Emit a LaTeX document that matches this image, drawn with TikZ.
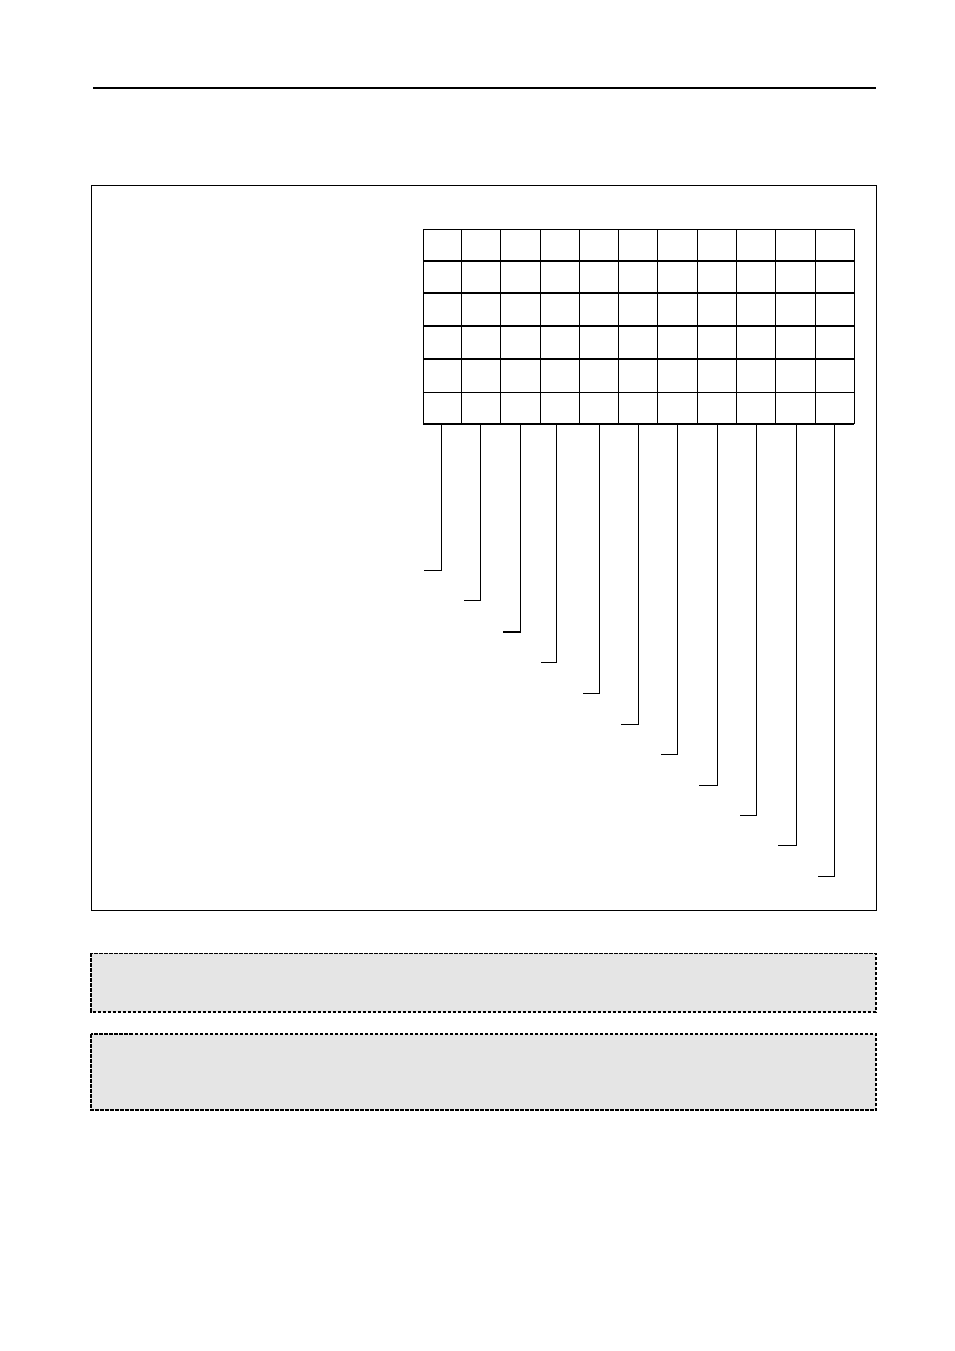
\documentclass[tikz,border=0pt]{standalone}
\begin{document}
\begin{tikzpicture}[x=1pt,y=-1pt,
  rule/.style={line width=2pt},
  frame/.style={line width=1pt},
  gridline/.style={line width=1.1pt},
  lead/.style={line width=1.1pt},
  dashbox/.style={line width=1.6pt,dash pattern=on 3.5pt off 1.5pt,fill=black!10}]
\useasboundingbox (0,0) rectangle (954,1351);
\fill[white] (0,0) rectangle (954,1351);
% top rule
\coordinate (rl) at (93,88);
\coordinate (rr) at (876,88);
\draw[rule] (rl) -- (rr);
% outer frame
\draw[frame] (91,186) rectangle (876,910);
% grid
\foreach \gx in {423.3,461.3,500.3,540.3,579.3,618.3,657.3,697.3,736.3,775.7,815.3,854.3}
  \draw[gridline] (\gx,229.3) -- (\gx,424);
\foreach \gy in {229.3,261,293,326,359,392.3,424}
  \draw[gridline] (423.3,\gy) -- (854.3,\gy);
% leads
\foreach \lx/\ly/\le [count=\i] in {
  441.3/570.3/424, 480.3/600.3/464, 520.3/632/503, 556.3/662.3/541,
  599.3/693.3/583, 638.3/724.3/621, 677.3/754.3/661, 717.3/785.3/699,
  756.3/815.3/740, 796.3/845.3/778, 834.3/876.3/818}{
  \coordinate (lt\i) at (\lx,424);
  \coordinate (lb\i) at (\lx,\ly);
  \coordinate (le\i) at (\le,\ly);
  \draw[lead] (lt\i) -- (lb\i) -- (le\i);
}
% dashed notes
\draw[dashbox] (91,953.3) rectangle (876,1011.7);
\draw[dashbox] (91,1034) rectangle (876,1110);
\end{tikzpicture}
\end{document}
